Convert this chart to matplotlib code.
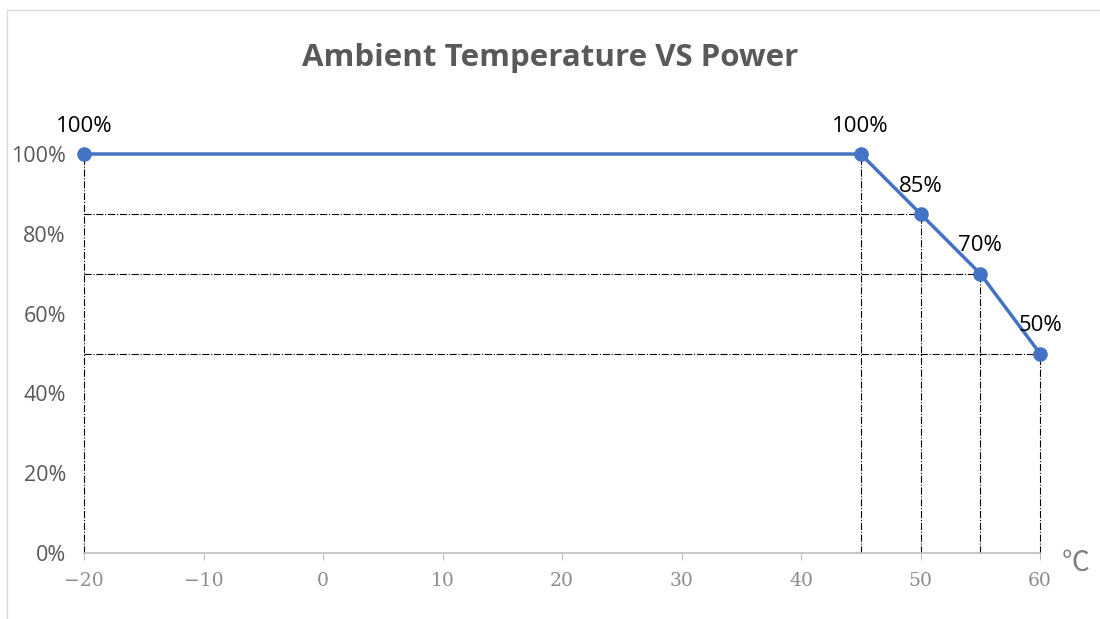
import matplotlib.pyplot as plt
from matplotlib.lines import Line2D

# data
temps = [-20, 45, 50, 55, 60]
power = [1.00, 1.00, 0.85, 0.70, 0.50]
labels = ["100%", "100%", "85%", "70%", "50%"]
xticks = [-20, -10, 0, 10, 20, 30, 40, 50, 60]
yticks = [0, 0.2, 0.4, 0.6, 0.8, 1.0]
ytick_labels = ["0%", "20%", "40%", "60%", "80%", "100%"]

fig = plt.figure(figsize=(11, 6.19), dpi=100)
ax = fig.add_axes([84 / 1100, 1 - 553 / 619, 956 / 1100, 399 / 619])

# guide lines (dash-dot)
for t, p in zip(temps, power):
    ax.plot([t, t], [0, p], color="black", lw=0.8, ls="-.", zorder=1, clip_on=False)
    if p < 1.0:
        ax.plot([temps[0], t], [p, p], color="black", lw=0.8, ls="-.", zorder=1,
                clip_on=False)

ax.plot(temps, power, color="#4472C4", lw=2.5, marker="o", ms=9.5, zorder=3,
        clip_on=False)

for t, p, lab in zip(temps, power, labels):
    ax.annotate(lab, (t, p), xytext=(0, 20), textcoords="offset points",
                ha="center", va="center", fontsize=16, color="black",
                family="Open Sans")

ax.set_xlim(-20, 60)
ax.set_ylim(0, 1)
ax.set_xticks(xticks)
ax.set_xticklabels(["\u2212%d" % -v if v < 0 else str(v) for v in xticks],
                   family="DejaVu Serif", fontsize=13.5, color="#8c8c8c")
ax.set_yticks(yticks)
ax.set_yticklabels(ytick_labels, family="Open Sans", fontsize=15.5, color="#595959")

for s in ["top", "right", "left"]:
    ax.spines[s].set_visible(False)
ax.spines["bottom"].set_color("#bfbfbf")
ax.spines["bottom"].set_linewidth(1.2)
ax.tick_params(axis="x", length=5, color="#bfbfbf", pad=9)
ax.tick_params(axis="y", length=0, pad=13)

ax.text(1.037, -0.025, "\u2103", transform=ax.transAxes, fontsize=20,
        color="#7f7f7f", ha="center", va="center", family="Noto Sans CJK SC")

fig.suptitle("Ambient Temperature VS Power", x=0.5, y=1 - 58 / 619, va="center",
             fontsize=22.5, fontweight="bold", color="#595959", family="Open Sans")

# chart border
fig.add_artist(Line2D([7 / 1100, 7 / 1100], [0, 1 - 10 / 619], color="#d9d9d9", lw=1))
fig.add_artist(Line2D([7 / 1100, 1], [1 - 10 / 619, 1 - 10 / 619], color="#d9d9d9", lw=1))

fig.savefig("out.png", dpi=100)
